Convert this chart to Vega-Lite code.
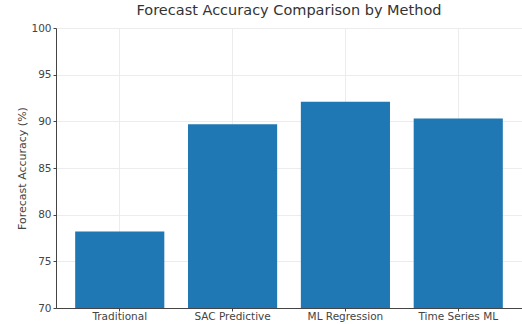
{
  "$schema": "https://vega.github.io/schema/vega-lite/v6.json",
  "autosize": {"type": "none"},
  "padding": {"left": 56, "top": 28, "right": 0, "bottom": 16},
  "width": 466,
  "height": 280,
  "background": "white",
  "title": {
    "text": "Forecast Accuracy Comparison by Method",
    "font": "DejaVu Sans",
    "fontSize": 14.5,
    "fontWeight": "normal",
    "color": "#333333",
    "anchor": "middle",
    "offset": 5
  },
  "data": {
    "values": [
      {"method": "Traditional", "accuracy": 78.2},
      {"method": "SAC Predictive", "accuracy": 89.7},
      {"method": "ML Regression", "accuracy": 92.1},
      {"method": "Time Series ML", "accuracy": 90.3}
    ]
  },
  "mark": {"type": "bar", "color": "#1f77b4", "clip": true},
  "encoding": {
    "x": {
      "field": "method",
      "type": "nominal",
      "sort": null,
      "scale": {"paddingInner": 0.21, "paddingOuter": 0.17},
      "axis": {
        "title": null,
        "labelAngle": 0,
        "labelFont": "DejaVu Sans",
        "labelFontSize": 10.5,
        "labelColor": "#444444",
        "labelPadding": 0,
        "tickSize": 3,
        "tickColor": "#444444",
        "domainColor": "#444444",
        "grid": true,
        "gridColor": "#ececec",
        "bandPosition": 0.5
      }
    },
    "y": {
      "field": "accuracy",
      "type": "quantitative",
      "scale": {"domain": [70, 100], "zero": false},
      "axis": {
        "title": "Forecast Accuracy (%)",
        "titleFont": "DejaVu Sans",
        "titleFontSize": 11,
        "titleFontWeight": "normal",
        "titleColor": "#444444",
        "titlePadding": 3,
        "values": [70, 75, 80, 85, 90, 95, 100],
        "labelFont": "DejaVu Sans",
        "labelFontSize": 10.5,
        "labelColor": "#444444",
        "labelPadding": 2,
        "tickSize": 3,
        "tickColor": "#444444",
        "domainColor": "#444444",
        "gridColor": "#ececec"
      }
    }
  },
  "config": {"view": {"stroke": null}}
}
